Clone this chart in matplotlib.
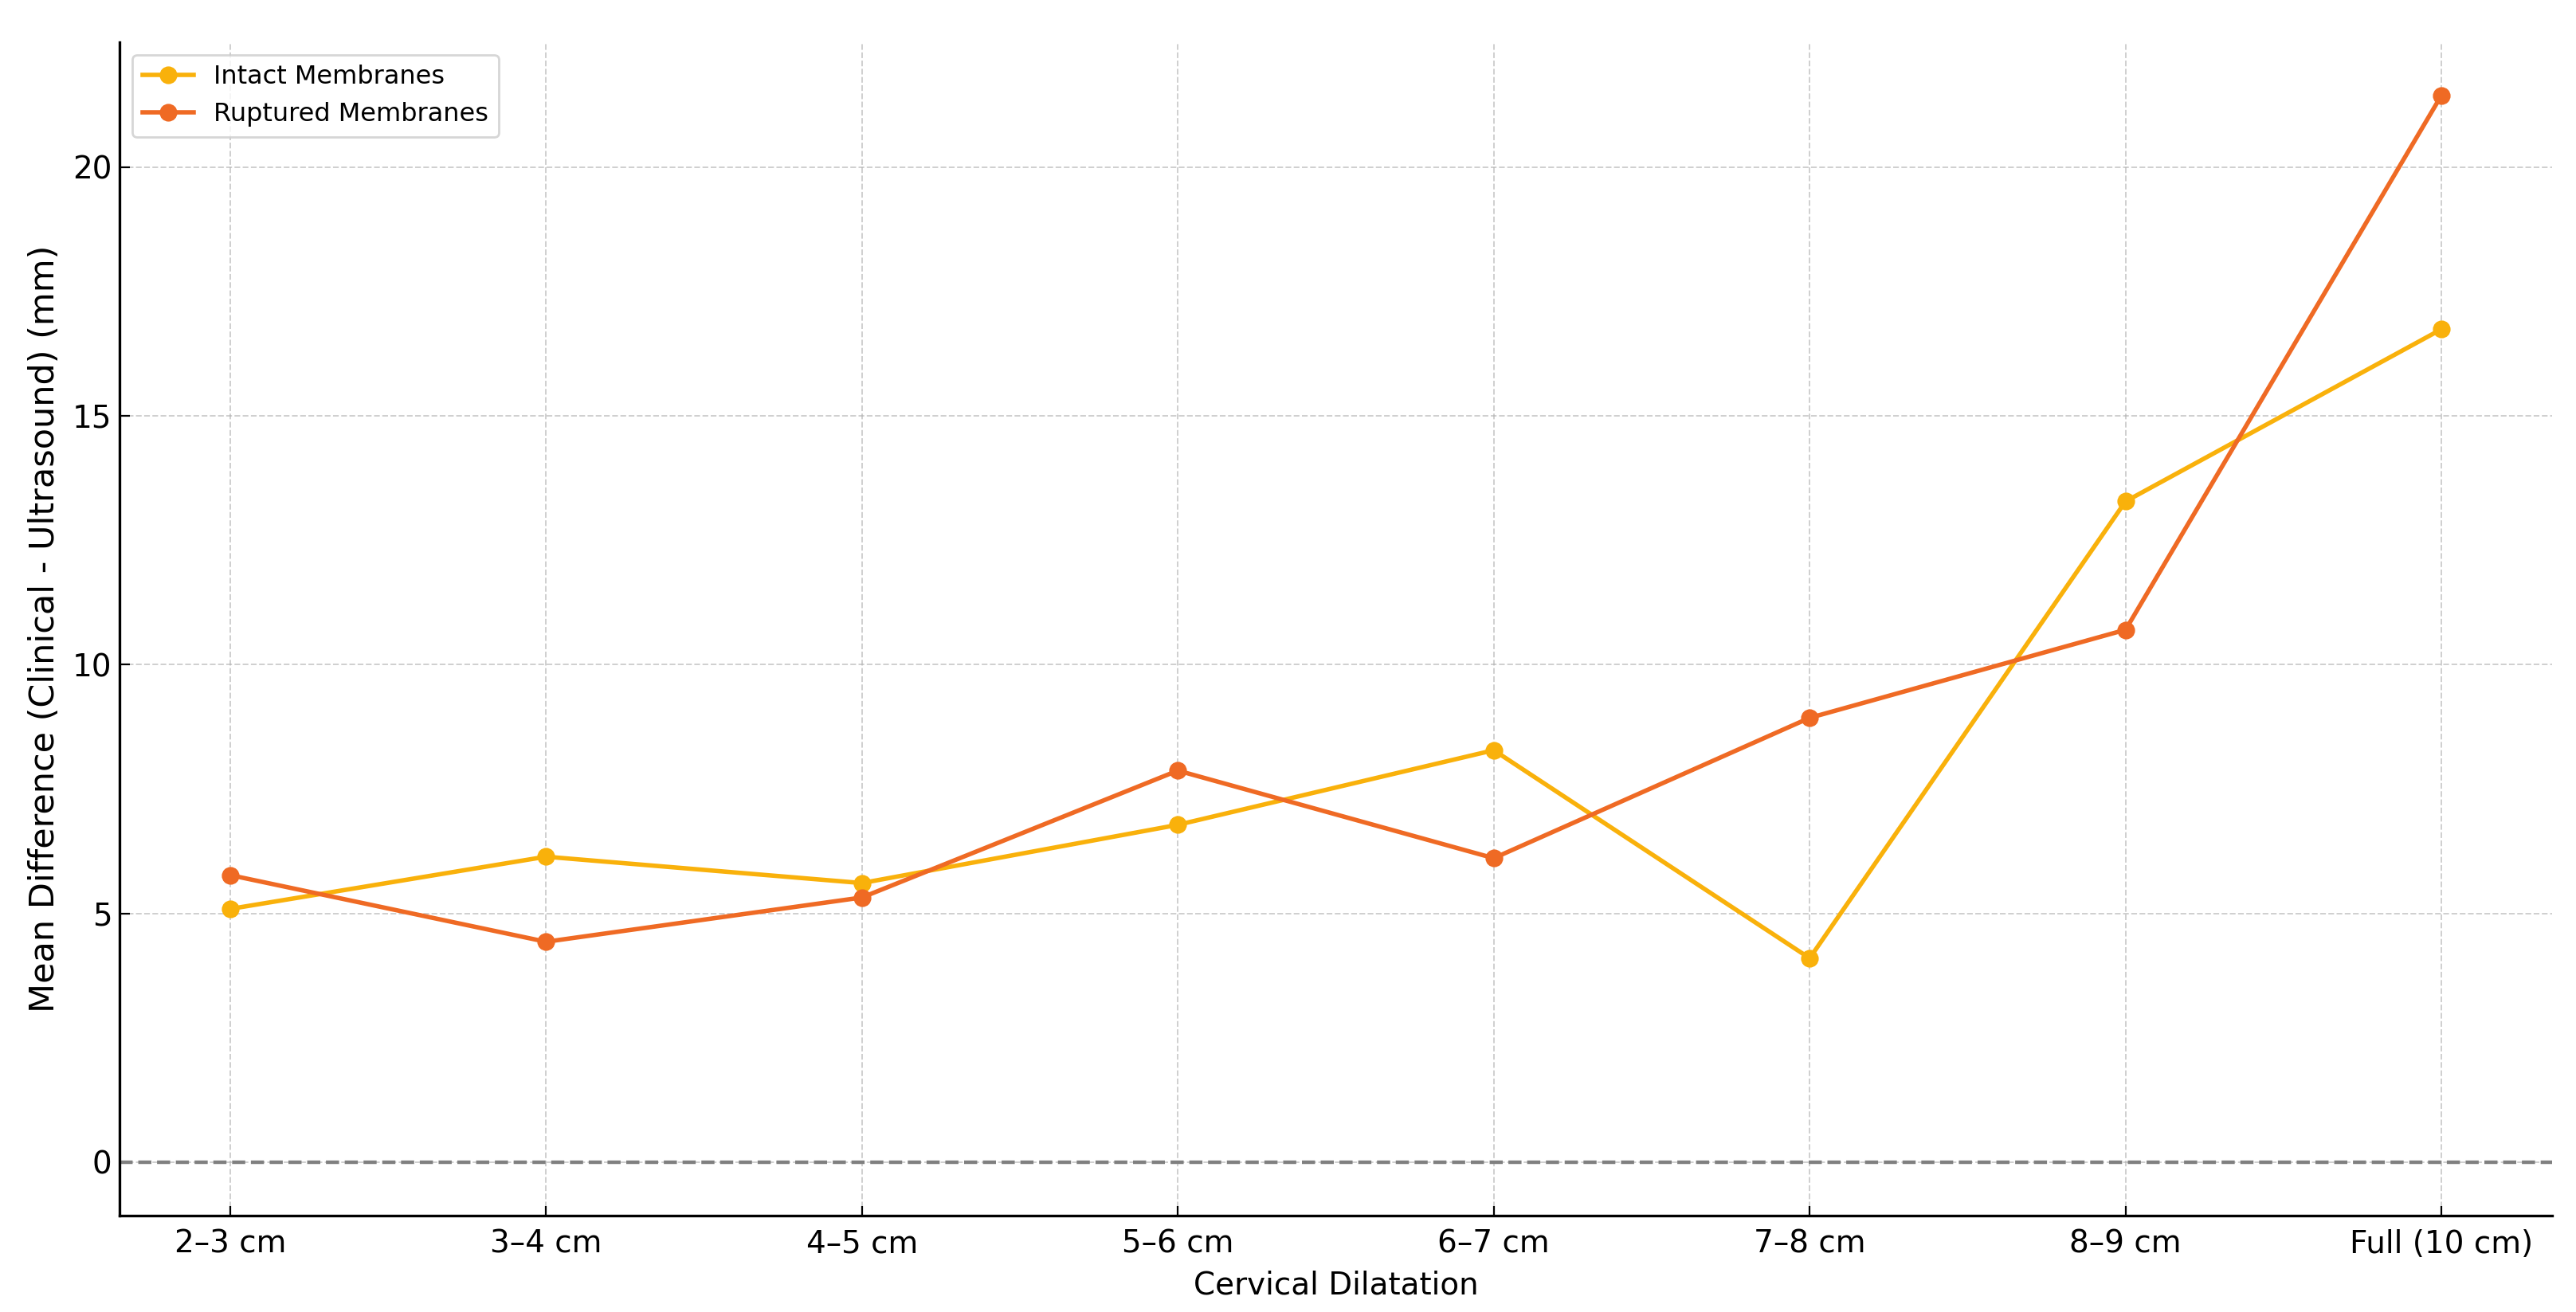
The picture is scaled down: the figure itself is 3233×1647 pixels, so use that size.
import matplotlib
matplotlib.use("Agg")
import matplotlib.pyplot as plt

# Donnees
dilatation = ["2–3 cm", "3–4 cm", "4–5 cm", "5–6 cm", "6–7 cm", "7–8 cm", "8–9 cm", "Full (10 cm)"]
intact = [5.09, 6.14, 5.61, 6.78, 8.28, 4.10, 13.28, 16.74]
rupture = [5.77, 4.43, 5.32, 7.87, 6.11, 8.93, 10.70, 21.44]

couleurIntact = "#F9B10B"
couleurRupture = "#EF6A24"

fig, ax = plt.subplots(figsize=(16.165, 8.235), dpi=200)
plt.subplots_adjust(left=0.0464, right=0.9907, top=0.968, bottom=0.0735)

ax.plot(dilatation, intact, marker="o", color=couleurIntact, linewidth=2, markersize=7, label="Intact Membranes")
ax.plot(dilatation, rupture, marker="o", color=couleurRupture, linewidth=2, markersize=7, label="Ruptured Membranes")
ax.axhline(0, color="gray", linestyle="--", linewidth=1.6)

ax.grid(True, linestyle="--", color="#b0b0b0", linewidth=0.7, alpha=0.6)
ax.spines["top"].set_visible(False)
ax.spines["right"].set_visible(False)
ax.spines["left"].set_linewidth(1.2)
ax.spines["bottom"].set_linewidth(1.2)
ax.tick_params(direction="in", labelsize=14, length=4.5)
ax.tick_params(axis="x", pad=6)

ax.set_xlabel("Cervical Dilatation", fontsize=14, labelpad=5)
ax.set_ylabel("Mean Difference (Clinical - Ultrasound) (mm)", fontsize=15.5, labelpad=5)
ax.legend(loc="upper left", fontsize=11.5)

plt.savefig("out.png")
